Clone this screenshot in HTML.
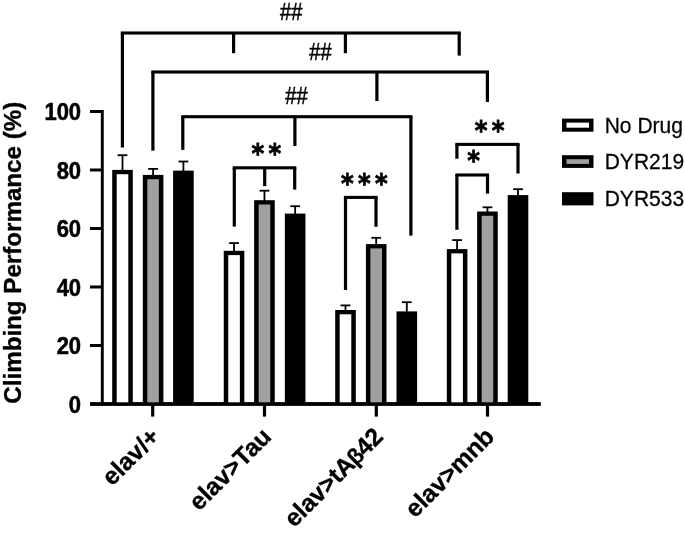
<!DOCTYPE html>
<html><head><meta charset="utf-8"><title>Climbing Performance</title>
<style>html,body{margin:0;padding:0;background:#fff}svg{display:block}</style></head>
<body>
<svg width="685" height="535" viewBox="0 0 685 535" shape-rendering="geometricPrecision">
<rect width="685" height="535" fill="#fff"/>
<g>
<rect x="100.85" y="110.00" width="2.90" height="295.70" fill="#000"/>
<rect x="90.00" y="402.30" width="450.60" height="3.40" fill="#000"/>
<rect x="90.00" y="344.00" width="12.00" height="3.00" fill="#000"/>
<rect x="90.00" y="285.50" width="12.00" height="3.00" fill="#000"/>
<rect x="90.00" y="227.00" width="12.00" height="3.00" fill="#000"/>
<rect x="90.00" y="168.50" width="12.00" height="3.00" fill="#000"/>
<rect x="90.00" y="110.00" width="12.00" height="3.00" fill="#000"/>
<rect x="151.10" y="404.00" width="3.20" height="12.60" fill="#000"/>
<rect x="262.90" y="404.00" width="3.20" height="12.60" fill="#000"/>
<rect x="374.70" y="404.00" width="3.20" height="12.60" fill="#000"/>
<rect x="485.90" y="404.00" width="3.20" height="12.60" fill="#000"/>
<rect x="121.60" y="155.20" width="1.80" height="15.70" fill="#000"/>
<rect x="117.60" y="154.30" width="9.80" height="1.80" fill="#000"/>
<rect x="112.20" y="169.90" width="20.60" height="234.10" fill="#000"/>
<rect x="116.70" y="174.20" width="11.60" height="229.80" fill="#fff"/>
<rect x="152.20" y="168.90" width="1.80" height="7.00" fill="#000"/>
<rect x="148.20" y="168.00" width="9.80" height="1.80" fill="#000"/>
<rect x="142.80" y="174.90" width="20.60" height="229.10" fill="#000"/>
<rect x="147.30" y="179.20" width="11.60" height="224.80" fill="#a0a0a0"/>
<rect x="182.50" y="161.50" width="1.80" height="10.10" fill="#000"/>
<rect x="178.50" y="160.60" width="9.80" height="1.80" fill="#000"/>
<rect x="173.10" y="170.60" width="20.60" height="233.40" fill="#000"/>
<rect x="233.15" y="243.10" width="1.80" height="8.70" fill="#000"/>
<rect x="229.15" y="242.20" width="9.80" height="1.80" fill="#000"/>
<rect x="223.75" y="250.80" width="20.60" height="153.20" fill="#000"/>
<rect x="228.25" y="255.10" width="11.60" height="148.90" fill="#fff"/>
<rect x="263.55" y="190.70" width="1.80" height="10.50" fill="#000"/>
<rect x="259.55" y="189.80" width="9.80" height="1.80" fill="#000"/>
<rect x="254.15" y="200.20" width="20.60" height="203.80" fill="#000"/>
<rect x="258.65" y="204.50" width="11.60" height="199.50" fill="#a0a0a0"/>
<rect x="294.25" y="206.20" width="1.80" height="8.40" fill="#000"/>
<rect x="290.25" y="205.30" width="9.80" height="1.80" fill="#000"/>
<rect x="284.85" y="213.60" width="20.60" height="190.40" fill="#000"/>
<rect x="344.60" y="305.40" width="1.80" height="5.60" fill="#000"/>
<rect x="340.60" y="304.50" width="9.80" height="1.80" fill="#000"/>
<rect x="335.20" y="310.00" width="20.60" height="94.00" fill="#000"/>
<rect x="339.70" y="314.30" width="11.60" height="89.70" fill="#fff"/>
<rect x="375.30" y="237.80" width="1.80" height="7.30" fill="#000"/>
<rect x="371.30" y="236.90" width="9.80" height="1.80" fill="#000"/>
<rect x="365.90" y="244.10" width="20.60" height="159.90" fill="#000"/>
<rect x="370.40" y="248.40" width="11.60" height="155.60" fill="#a0a0a0"/>
<rect x="405.90" y="302.20" width="1.80" height="10.20" fill="#000"/>
<rect x="401.90" y="301.30" width="9.80" height="1.80" fill="#000"/>
<rect x="396.50" y="311.40" width="20.60" height="92.60" fill="#000"/>
<rect x="456.20" y="240.10" width="1.80" height="10.00" fill="#000"/>
<rect x="452.20" y="239.20" width="9.80" height="1.80" fill="#000"/>
<rect x="446.80" y="249.10" width="20.60" height="154.90" fill="#000"/>
<rect x="451.30" y="253.40" width="11.60" height="150.60" fill="#fff"/>
<rect x="486.55" y="207.30" width="1.80" height="5.20" fill="#000"/>
<rect x="482.55" y="206.40" width="9.80" height="1.80" fill="#000"/>
<rect x="477.15" y="211.50" width="20.60" height="192.50" fill="#000"/>
<rect x="481.65" y="215.80" width="11.60" height="188.20" fill="#a0a0a0"/>
<rect x="517.10" y="189.20" width="1.80" height="6.90" fill="#000"/>
<rect x="513.10" y="188.30" width="9.80" height="1.80" fill="#000"/>
<rect x="507.70" y="195.10" width="20.60" height="208.90" fill="#000"/>
<rect x="90.00" y="402.30" width="450.60" height="3.40" fill="#000"/>
<rect x="120.80" y="31.45" width="340.00" height="3.10" fill="#000"/>
<rect x="120.80" y="33.00" width="3.20" height="114.50" fill="#000"/>
<rect x="232.00" y="33.00" width="3.20" height="20.20" fill="#000"/>
<rect x="343.80" y="33.00" width="3.20" height="20.20" fill="#000"/>
<rect x="457.60" y="33.00" width="3.20" height="22.60" fill="#000"/>
<rect x="151.30" y="70.45" width="337.70" height="3.10" fill="#000"/>
<rect x="151.30" y="72.00" width="3.20" height="78.60" fill="#000"/>
<rect x="375.30" y="72.00" width="3.20" height="29.10" fill="#000"/>
<rect x="485.80" y="72.00" width="3.20" height="30.00" fill="#000"/>
<rect x="181.20" y="115.15" width="231.30" height="3.10" fill="#000"/>
<rect x="181.20" y="116.70" width="3.20" height="33.20" fill="#000"/>
<rect x="293.30" y="116.70" width="3.20" height="29.30" fill="#000"/>
<rect x="409.30" y="116.70" width="3.20" height="118.90" fill="#000"/>
<rect x="232.70" y="166.25" width="63.60" height="3.10" fill="#000"/>
<rect x="232.70" y="167.80" width="3.20" height="58.80" fill="#000"/>
<rect x="263.10" y="167.80" width="3.20" height="18.30" fill="#000"/>
<rect x="293.10" y="167.80" width="3.20" height="21.80" fill="#000"/>
<rect x="343.90" y="195.85" width="33.70" height="3.10" fill="#000"/>
<rect x="343.90" y="197.40" width="3.20" height="92.60" fill="#000"/>
<rect x="374.40" y="197.40" width="3.20" height="29.40" fill="#000"/>
<rect x="455.30" y="142.85" width="64.30" height="3.10" fill="#000"/>
<rect x="455.30" y="144.40" width="3.20" height="14.30" fill="#000"/>
<rect x="516.40" y="144.40" width="3.20" height="29.10" fill="#000"/>
<rect x="455.30" y="173.45" width="33.80" height="3.10" fill="#000"/>
<rect x="455.30" y="175.00" width="3.20" height="54.80" fill="#000"/>
<rect x="485.90" y="175.00" width="3.20" height="18.60" fill="#000"/>
<rect x="562.00" y="118.60" width="31.50" height="13.10" fill="#000"/>
<rect x="566.50" y="122.60" width="22.50" height="5.10" fill="#fff"/>
<rect x="562.00" y="155.20" width="31.50" height="12.70" fill="#000"/>
<rect x="566.50" y="159.20" width="22.50" height="4.70" fill="#a0a0a0"/>
<rect x="562.00" y="192.20" width="31.50" height="13.20" fill="#000"/>
</g>
<g fill="#000">
<text transform="translate(604.7,133.0) scale(0.987,1.03)" font-size="21.3" stroke="#000" stroke-width="0.25" font-family="'Liberation Sans', sans-serif">No Drug</text>
<text transform="translate(604.7,169.2) scale(0.987,1.03)" font-size="21.3" stroke="#000" stroke-width="0.25" font-family="'Liberation Sans', sans-serif">DYR219</text>
<text transform="translate(604.7,206.2) scale(0.987,1.03)" font-size="21.3" stroke="#000" stroke-width="0.25" font-family="'Liberation Sans', sans-serif">DYR533</text>
<text transform="translate(81.1,412.50) scale(1,1.07)" font-size="22" font-weight="bold" stroke="#000" stroke-width="0.5" text-anchor="end" font-family="'Liberation Sans', sans-serif">0</text>
<text transform="translate(81.1,354.00) scale(1,1.07)" font-size="22" font-weight="bold" stroke="#000" stroke-width="0.5" text-anchor="end" font-family="'Liberation Sans', sans-serif">20</text>
<text transform="translate(81.1,295.50) scale(1,1.07)" font-size="22" font-weight="bold" stroke="#000" stroke-width="0.5" text-anchor="end" font-family="'Liberation Sans', sans-serif">40</text>
<text transform="translate(81.1,237.00) scale(1,1.07)" font-size="22" font-weight="bold" stroke="#000" stroke-width="0.5" text-anchor="end" font-family="'Liberation Sans', sans-serif">60</text>
<text transform="translate(81.1,178.50) scale(1,1.07)" font-size="22" font-weight="bold" stroke="#000" stroke-width="0.5" text-anchor="end" font-family="'Liberation Sans', sans-serif">80</text>
<text transform="translate(81.1,120.00) scale(1,1.07)" font-size="22" font-weight="bold" stroke="#000" stroke-width="0.5" text-anchor="end" font-family="'Liberation Sans', sans-serif">100</text>
<text transform="translate(21.3,403.7) rotate(-90)" font-size="24.7" font-weight="bold" stroke="#000" stroke-width="0.35" font-family="'Liberation Sans', sans-serif" textLength="301.9" lengthAdjust="spacingAndGlyphs">Climbing Performance (%)</text>
<text transform="translate(160.9,438) rotate(-45)" font-size="24.6" font-weight="bold" stroke="#000" stroke-width="0.35" text-anchor="end" font-family="'Liberation Sans', sans-serif">elav/+</text>
<text transform="translate(272.7,438) rotate(-45)" font-size="24.6" font-weight="bold" stroke="#000" stroke-width="0.35" text-anchor="end" font-family="'Liberation Sans', sans-serif">elav&gt;Tau</text>
<text transform="translate(384.5,438) rotate(-45)" font-size="24.6" font-weight="bold" stroke="#000" stroke-width="0.35" text-anchor="end" font-family="'Liberation Sans', sans-serif">elav&gt;tA<tspan dx="-0.6" font-size="22.5">β</tspan><tspan dx="-0.9">42</tspan></text>
<text transform="translate(495.7,438) rotate(-45)" font-size="24.6" font-weight="bold" stroke="#000" stroke-width="0.35" text-anchor="end" font-family="'Liberation Sans', sans-serif">elav&gt;mnb</text>
<text transform="translate(291.3,19.9) scale(0.915,1.07)" font-size="22" text-anchor="middle" stroke="#000" stroke-width="0.45" font-family="'Liberation Sans', sans-serif">##</text>
<text transform="translate(320.5,59.6) scale(0.915,1.07)" font-size="22" text-anchor="middle" stroke="#000" stroke-width="0.45" font-family="'Liberation Sans', sans-serif">##</text>
<text transform="translate(296.5,104.2) scale(0.915,1.07)" font-size="22" text-anchor="middle" stroke="#000" stroke-width="0.45" font-family="'Liberation Sans', sans-serif">##</text>
<text transform="translate(0,162.93) scale(1,1.12)" x="257.95 274.95" y="0" font-size="24.3" font-weight="bold" text-anchor="middle" stroke="#000" stroke-width="0.7" font-family="'DejaVu Sans', sans-serif">**</text>
<text transform="translate(0,192.73) scale(1,1.12)" x="347.30 364.30 381.30" y="0" font-size="24.3" font-weight="bold" text-anchor="middle" stroke="#000" stroke-width="0.7" font-family="'DejaVu Sans', sans-serif">***</text>
<text transform="translate(0,140.28) scale(1,1.12)" x="481.10 498.10" y="0" font-size="24.3" font-weight="bold" text-anchor="middle" stroke="#000" stroke-width="0.7" font-family="'DejaVu Sans', sans-serif">**</text>
<text transform="translate(0,169.83) scale(1,1.12)" x="473.60" y="0" font-size="24.3" font-weight="bold" text-anchor="middle" stroke="#000" stroke-width="0.7" font-family="'DejaVu Sans', sans-serif">*</text>
</g>
</svg>
</body></html>
